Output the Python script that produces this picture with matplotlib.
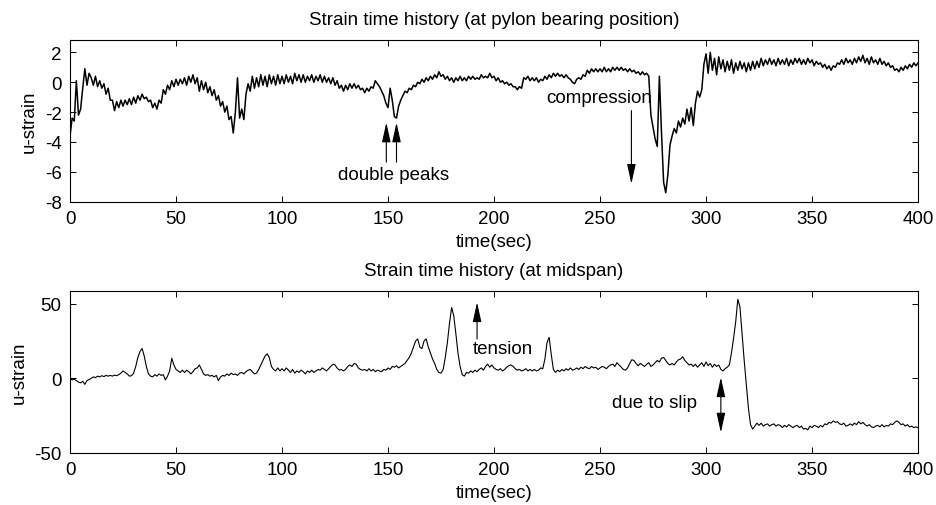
import numpy as np
import matplotlib.pyplot as plt

# Datos (1 muestra por segundo) #############################################
tiempo = np.arange(0, 401)

strain_pilon = [
    -3.6, -2.4, -2.6, 0.1, -2.2, -1.8, -0.4, 0.9, -0.2, 0.6,
    0.3, -0.2, 0.4, -0.3, 0.1, -0.4, -0.1, -0.8, -0.4, -1.2,
    -1.2, -1.9, -1.3, -1.7, -1.2, -1.6, -1.2, -1.5, -1.1, -1.5,
    -1.0, -1.4, -0.9, -1.2, -0.8, -1.1, -1.0, -1.3, -1.2, -1.7,
    -1.4, -1.8, -1.2, -1.4, -0.5, -0.8, -0.2, -0.5, 0.1, -0.3,
    0.2, -0.2, 0.2, -0.1, 0.3, -0.2, 0.4, 0.0, 0.5, -0.1,
    0.3, -0.6, 0.1, -0.5, 0.0, -0.7, -0.3, -0.9, -0.5, -1.2,
    -0.9, -1.6, -1.3, -2.0, -1.6, -2.5, -2.3, -3.4, -2.0, 0.3,
    -2.4, -1.8, -2.5, -0.8, -0.1, -0.6, 0.4, -0.4, 0.3, -0.3,
    0.5, -0.2, 0.4, -0.3, 0.5, -0.1, 0.4, -0.2, 0.5, -0.1,
    0.4, -0.1, 0.5, 0.0, 0.4, -0.1, 0.6, 0.1, 0.5, 0.0,
    0.5, 0.0, 0.4, 0.1, 0.5, 0.0, 0.4, 0.1, 0.5, 0.0,
    0.4, 0.0, 0.3, -0.1, 0.3, -0.2, 0.1, -0.4, -0.2, -0.6,
    -0.2, -0.5, -0.1, -0.4, -0.1, -0.4, -0.2, -0.5, -0.4, -0.7,
    -0.4, -0.6, -0.3, -0.4, 0.1, -0.1, -0.3, -0.6, -0.9, -1.4,
    -1.7, -0.4, -1.2, -2.3, -2.4, -1.6, -1.2, -0.9, -0.6, -0.7,
    -0.4, -0.5, -0.2, -0.3, 0.0, -0.1, 0.2, 0.0, 0.3, 0.1,
    0.4, 0.2, 0.5, 0.3, 0.7, 0.4, 0.5, 0.2, 0.4, 0.1,
    0.3, 0.0, 0.3, 0.1, 0.4, 0.1, 0.3, 0.1, 0.4, 0.2,
    0.4, 0.2, 0.3, 0.2, 0.5, 0.3, 0.4, 0.3, 0.6, 0.3,
    0.4, 0.1, 0.3, 0.0, 0.1, -0.1, 0.0, -0.2, -0.1, -0.3,
    -0.3, -0.5, -0.3, -0.4, 0.3, 0.2, 0.4, 0.1, 0.3, 0.1,
    0.3, 0.0, 0.2, 0.1, 0.4, 0.2, 0.5, 0.3, 0.6, 0.4,
    0.6, 0.4, 0.5, 0.3, 0.5, 0.3, 0.2, 0.0, -0.1, 0.2,
    0.3, 0.2, 0.5, 0.4, 0.8, 0.6, 0.9, 0.7, 0.9, 0.7,
    0.9, 0.7, 1.0, 0.7, 0.9, 0.7, 1.0, 0.8, 1.0, 0.8,
    1.0, 0.8, 0.9, 0.7, 0.9, 0.7, 0.8, 0.6, 0.7, 0.5,
    0.7, 0.5, 0.6, 0.4, -2.2, -3.0, -3.8, -4.3, 0.4, -3.4,
    -6.7, -7.4, -6.2, -4.2, -3.6, -3.1, -3.4, -2.6, -3.0, -2.4,
    -2.8, -1.8, -2.6, -1.7, -2.9, -1.4, -0.6, -1.0, -0.5, 1.2,
    1.9, 0.6, 2.0, 0.8, 1.6, 0.5, 1.7, 0.9, 1.5, 0.7,
    1.4, 0.8, 1.5, 0.6, 1.3, 0.8, 1.4, 0.9, 1.3, 0.7,
    1.3, 0.8, 1.4, 0.9, 1.4, 1.0, 1.6, 1.1, 1.5, 1.2,
    1.6, 1.2, 1.5, 1.1, 1.6, 1.2, 1.5, 1.2, 1.6, 1.1,
    1.5, 1.2, 1.6, 1.3, 1.6, 1.2, 1.5, 1.2, 1.6, 1.3,
    1.5, 1.1, 1.4, 1.2, 1.3, 1.0, 1.2, 0.9, 1.1, 0.8,
    1.1, 1.0, 1.3, 1.2, 1.5, 1.2, 1.6, 1.3, 1.5, 1.2,
    1.6, 1.3, 1.7, 1.4, 1.8, 1.3, 1.6, 1.2, 1.7, 1.3,
    1.5, 1.2, 1.6, 1.2, 1.4, 1.1, 1.3, 1.0, 1.1, 0.8,
    0.9, 0.7, 1.0, 0.8, 1.1, 0.9, 1.2, 1.0, 1.3, 1.1,
    1.3,
]

strain_centro = [
    -0.5, -1.0, -0.5, -1.5, -2.5, -3.0, -2.0, -4.0, -1.5, -0.8,
    0.0, 1.0, 0.5, 1.5, 1.0, 1.8, 1.2, 2.0, 1.5, 2.0,
    1.5, 2.2, 1.8, 2.5, 3.5, 5.0, 4.0, 3.0, 1.5, 1.8,
    3.5, 8.0, 14.0, 18.0, 20.0, 15.0, 8.0, 3.0, 1.5, 1.0,
    2.5, 1.5, 3.0, 2.0, 2.5, -1.0, 1.5, 5.0, 13.5, 9.0,
    6.0, 5.0, 4.0, 5.5, 4.0, 5.5, 4.5, 3.0, 4.5, 6.5,
    7.0, 9.0, 6.0, 3.0, 2.0, 2.5, 1.5, 2.0, 1.0, 2.0,
    -1.5, 1.0, 2.0, 1.5, 3.0, 2.0, 3.5, 2.5, 3.0, 2.0,
    3.5, 4.0, 3.0, 4.5, 5.5, 6.0, 4.5, 3.0, 3.5, 6.0,
    9.0, 12.0, 15.0, 16.5, 14.0, 8.0, 6.0, 5.0, 7.0, 5.0,
    6.5, 5.0, 7.0, 5.5, 4.0, 6.0, 3.5, 5.0, 4.0, 5.5,
    4.5, 3.0, 5.0, 4.0, 5.5, 4.0, 5.0, 6.0, 5.5, 7.0,
    6.0, 5.0, 6.5, 8.0, 9.5, 9.0, 7.0, 5.5, 6.0, 5.0,
    6.0, 8.0, 9.0, 8.0, 10.0, 9.5, 7.0, 6.0, 5.5, 6.0,
    5.0, 6.5, 5.0, 6.0, 4.5, 5.5, 5.0, 4.5, 6.0, 5.5,
    7.0, 6.0, 8.0, 7.5, 8.5, 7.0, 8.0, 9.0, 10.0, 12.0,
    14.0, 17.0, 21.0, 25.0, 26.5, 21.0, 20.0, 25.0, 26.5, 21.0,
    17.0, 13.0, 10.0, 6.0, 4.0, 3.5, 6.0, 14.0, 24.0, 37.0,
    47.5, 42.0, 30.0, 17.0, 8.0, 2.5, 1.5, 4.0, 3.5, 5.0,
    4.0, 5.5, 4.5, 6.0, 7.0, 5.5, 8.0, 9.5, 7.5, 9.0,
    7.0, 6.0, 5.5, 6.5, 5.0, 6.0, 7.5, 8.5, 9.0, 8.0,
    6.5, 5.5, 6.0, 5.0, 5.5, 6.5, 5.0, 6.0, 5.0, 6.0,
    5.0, 5.5, 7.0, 6.5, 13.0, 24.0, 27.5, 16.0, 6.0, 4.0,
    5.5, 4.5, 6.0, 5.0, 6.5, 5.5, 7.0, 5.5, 6.0, 7.0,
    6.0, 7.5, 6.5, 8.0, 7.0, 6.5, 8.0, 7.0, 7.5, 6.0,
    7.0, 8.0, 7.5, 6.5, 8.0, 9.0, 9.5, 8.0, 10.5, 9.0,
    7.5, 6.0, 5.5, 7.0, 10.0, 12.5, 12.0, 10.0, 8.5, 10.0,
    9.0, 8.0, 9.5, 10.5, 8.0, 9.0, 10.5, 12.0, 11.0, 13.5,
    14.0, 12.0, 10.0, 9.0, 10.0, 9.0, 11.0, 12.5, 13.0, 14.5,
    12.0, 10.5, 9.0, 9.5, 8.0, 9.5, 7.5, 9.0, 10.5, 8.0,
    11.0, 8.5, 10.0, 7.5, 9.5, 8.0, 9.0, 6.0, 5.0, 6.5,
    7.5, 9.0, 17.0, 27.0, 38.0, 53.0, 48.0, 30.0, 12.0, -4.0,
    -20.0, -31.0, -34.0, -32.0, -30.0, -31.5, -30.0, -32.0, -31.0, -30.5,
    -32.0, -31.0, -30.5, -32.0, -31.0, -31.5, -33.0, -31.5, -32.5, -31.0,
    -32.0, -33.0, -32.0, -31.5, -33.0, -32.0, -34.0, -33.5, -34.5, -32.0,
    -33.0, -31.5, -32.0, -33.0, -31.5, -32.5, -30.5, -31.0, -29.5, -30.0,
    -28.5, -29.5, -29.0, -30.5, -31.0, -30.0, -32.0, -31.5, -30.5, -31.5,
    -30.0, -31.0, -29.0, -30.5, -29.5, -31.0, -32.0, -31.0, -32.5, -33.0,
    -32.0, -31.5, -32.5, -31.0, -32.5, -31.5, -32.0, -30.5, -31.0, -29.5,
    -28.5, -29.5, -31.0, -30.5, -32.0, -31.0, -32.5, -32.0, -33.0, -32.5,
    -33.0,
]

ticks_x = [0, 50, 100, 150, 200, 250, 300, 350, 400]
ticks_y_pilon = [-8, -6, -4, -2, 0, 2]
ticks_y_centro = [-50, 0, 50]

# Grafico ####################################################################
plt.rcParams['font.family'] = ['Liberation Sans', 'DejaVu Sans']
plt.rcParams['font.size'] = 13.5
plt.rcParams['axes.unicode_minus'] = False

fig = plt.figure(figsize=(9.36, 5.06), dpi=100)
flecha = dict(arrowstyle='-|>,head_length=1.0,head_width=0.22', color='k',
              lw=0.8, shrinkA=0, shrinkB=0, mutation_scale=12)


def estilo(ax, ticks_y):
    ax.set_xlim(0, 400)
    ax.set_xticks(ticks_x)
    ax.set_yticks(ticks_y)
    ax.tick_params(direction='in', top=True, right=True, length=4.5,
                   width=0.7, pad=6, labelsize=13.5)
    for s in ax.spines.values():
        s.set_linewidth(0.8)
    ax.set_xlabel('time(sec)', labelpad=4)
    ax.set_ylabel('u-strain', labelpad=5)


ax1 = fig.add_axes([0.0748, 0.5994, 0.906, 0.3202])
ax1.plot(tiempo, strain_pilon, color='k', lw=1.1)
ax1.set_ylim(-8, 2.85)
estilo(ax1, ticks_y_pilon)
ax1.set_title('Strain time history (at pylon bearing position)', fontsize=13.5, pad=11)
ax1.text(152.5, -6.15, 'double peaks', ha='center', va='center')
ax1.annotate('', xy=(149.2, -2.7), xytext=(149.2, -5.35), arrowprops=flecha)
ax1.annotate('', xy=(154, -2.7), xytext=(154, -5.35), arrowprops=flecha)
ax1.text(249.4, -1.05, 'compression', ha='center', va='center')
ax1.annotate('', xy=(264.8, -6.8), xytext=(264.8, -1.9), arrowprops=flecha)

ax2 = fig.add_axes([0.0748, 0.1028, 0.906, 0.3208])
ax2.plot(tiempo, strain_centro, color='k', lw=0.8)
ax2.set_ylim(-50, 58.8)
estilo(ax2, ticks_y_centro)
ax2.set_title('Strain time history (at midspan)', fontsize=13.5, pad=11)
ax2.text(204, 19.7, 'tension', ha='center', va='center')
ax2.annotate('', xy=(192, 51), xytext=(192, 26.4), arrowprops=flecha)
ax2.text(275.8, -16, 'due to slip', ha='center', va='center')
flecha2 = dict(flecha)
flecha2['arrowstyle'] = '<|-|>,head_length=1.0,head_width=0.22'
ax2.annotate('', xy=(307, -36.3), xytext=(307, 0.7), arrowprops=flecha2)

plt.savefig('out.png', dpi=100)
